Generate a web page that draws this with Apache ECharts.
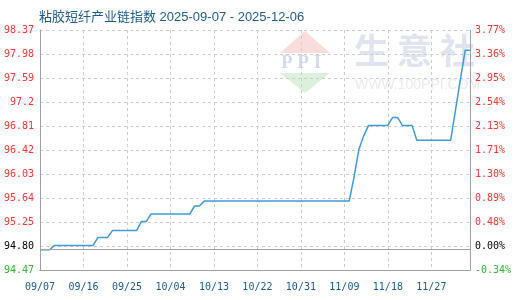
<!DOCTYPE html>
<html>
<head>
<meta charset="utf-8">
<script src="https://cdn.jsdelivr.net/npm/echarts@6/dist/echarts.min.js"></script>
<style>
html,body{margin:0;padding:0;background:#fff;}
#chart{width:520px;height:300px;}
</style>
</head>
<body>
<div id="chart"></div>
<script>
var titleText = '粘胶短纤产业链指数 2025-09-07 - 2025-12-06';
var dates = [
'09/07','09/08','09/09','09/10','09/11','09/12','09/13','09/14','09/15','09/16',
'09/17','09/18','09/19','09/20','09/21','09/22','09/23','09/24','09/25','09/26',
'09/27','09/28','09/29','09/30','10/01','10/02','10/03','10/04','10/05','10/06',
'10/07','10/08','10/09','10/10','10/11','10/12','10/13','10/14','10/15','10/16',
'10/17','10/18','10/19','10/20','10/21','10/22','10/23','10/24','10/25','10/26',
'10/27','10/28','10/29','10/30','10/31','11/01','11/02','11/03','11/04','11/05',
'11/06','11/07','11/08','11/09','11/10','11/11','11/12','11/13','11/14','11/15',
'11/16','11/17','11/18','11/19','11/20','11/21','11/22','11/23','11/24','11/25',
'11/26','11/27','11/28','11/29','11/30','12/01','12/02','12/03','12/04','12/05'
];
var indexValues = [
94.80,94.80,94.80,
94.87,94.87,94.87,94.87,94.87,94.87,94.87,94.87,94.87,
95.00,95.00,95.00,
95.11,95.11,95.11,95.11,95.11,95.11,
95.26,95.26,
95.38,95.38,95.38,95.38,95.38,95.38,95.38,95.38,95.38,
95.51,95.51,
95.59,95.59,95.59,95.59,95.59,95.59,95.59,95.59,95.59,95.59,
95.59,95.59,95.59,95.59,95.59,95.59,95.59,95.59,95.59,95.59,
95.59,95.59,95.59,95.59,95.59,95.59,95.59,95.59,95.59,95.59,95.59,
95.98,96.43,96.65,
96.82,96.82,96.82,96.82,96.82,
96.95,96.95,
96.82,96.82,96.82,
96.58,96.58,96.58,96.58,96.58,96.58,96.58,96.58,
97.07,97.56,
98.04,98.04
];
var baseValue = 94.80;
var leftTickLabels = ['94.47','94.80','95.25','95.64','96.03','96.42','96.81','97.2','97.59','97.98','98.37'];
var rightTickLabels = ['-0.34%','0.00%','0.48%','0.89%','1.30%','1.71%','2.13%','2.54%','2.95%','3.36%','3.77%'];
var leftMin = 94.47, leftMax = 98.37, leftStep = 0.39;

function styleFor(i){ return i === 0 ? 'g' : (i === 1 ? 'k' : 'r'); }
var richStyles = {
  g: {color:'#2eb82e', fontFamily:'DejaVu Sans Mono', fontSize:10},
  k: {color:'#000000', fontFamily:'DejaVu Sans Mono', fontSize:10},
  r: {color:'#ff3333', fontFamily:'DejaVu Sans Mono', fontSize:10}
};

var chart = echarts.init(document.getElementById('chart'), null, {renderer:'canvas'});
var labelInterval = function(i){ return i % 9 === 0; };
var splitInterval = function(i){ return i % 9 === 0 && i > 0; };

chart.setOption({
  animation: false,
  backgroundColor: '#ffffff',
  title: {
    text: titleText,
    left: 34, top: 6,
    textStyle: {fontSize: 13, fontWeight: 'normal', color: '#1c5a8a', fontFamily: 'Liberation Sans, Noto Sans CJK SC, sans-serif'}
  },
  graphic: [
    {type:'polygon', silent:true, z:0, shape:{points:[[305,31],[280,53],[330,53]]}, style:{fill:'#f9dcdc'}},
    {type:'text', silent:true, z:0, left:281, top:54, style:{text:'P P I', fill:'#d3dbea', font:'bold 19px Liberation Serif'}},
    {type:'polygon', silent:true, z:0, shape:{points:[[280,73],[330,73],[305,93]]}, style:{fill:'#dcf1dc'}},
    {type:'text', silent:true, z:0, left:354, top:33, style:{text:'生 意 社', fill:'#dfe4ee', font:'bold 35px Noto Sans CJK SC'}},
    {type:'text', silent:true, z:0, left:355, top:78, style:{text:'WWW.100PPI.COM', fill:'#ebebeb', font:'14px Liberation Sans'}}
  ],
  grid: {left: 40, right: 50, top: 30, bottom: 30},
  xAxis: {
    type: 'category',
    data: dates,
    boundaryGap: false,
    axisLine: {lineStyle: {color: '#a0a0a0', width: 1}},
    axisTick: {show: false},
    axisLabel: {interval: labelInterval, color: '#1a5a8a', fontFamily: 'DejaVu Sans Mono', fontSize: 10, margin: 12},
    splitLine: {show: true, interval: splitInterval, lineStyle: {color: '#cccccc', type: [3,3]}}
  },
  yAxis: [
    {
      type: 'value',
      min: leftMin, max: leftMax, interval: leftStep,
      axisLine: {show: true, lineStyle: {color: '#a0a0a0'}},
      axisTick: {show: false},
      splitLine: {show: true, lineStyle: {color: '#cccccc', type: [3,3]}},
      axisLabel: {
        margin: 6,
        formatter: function(v){
          var i = Math.round((v - leftMin) / leftStep);
          return '{' + styleFor(i) + '|' + leftTickLabels[i] + '}';
        },
        rich: richStyles
      }
    },
    {
      type: 'value',
      position: 'right',
      min: 0, max: 10, interval: 1,
      axisLine: {show: true, lineStyle: {color: '#a0a0a0'}},
      axisTick: {show: false},
      splitLine: {show: false},
      axisLabel: {
        margin: 5,
        formatter: function(v){
          var i = Math.round(v);
          return '{' + styleFor(i) + '|' + rightTickLabels[i] + '}';
        },
        rich: richStyles
      }
    }
  ],
  series: [{
    type: 'line',
    data: indexValues,
    yAxisIndex: 0,
    symbol: 'none',
    lineStyle: {color: '#3d9ad6', width: 1.5},
    itemStyle: {color: '#3d9ad6'},
    markLine: {
      silent: true,
      symbol: 'none',
      label: {show: false},
      lineStyle: {color: '#a0a0a0', type: 'solid', width: 1},
      data: [{yAxis: baseValue}]
    }
  }]
});
</script>
</body>
</html>
